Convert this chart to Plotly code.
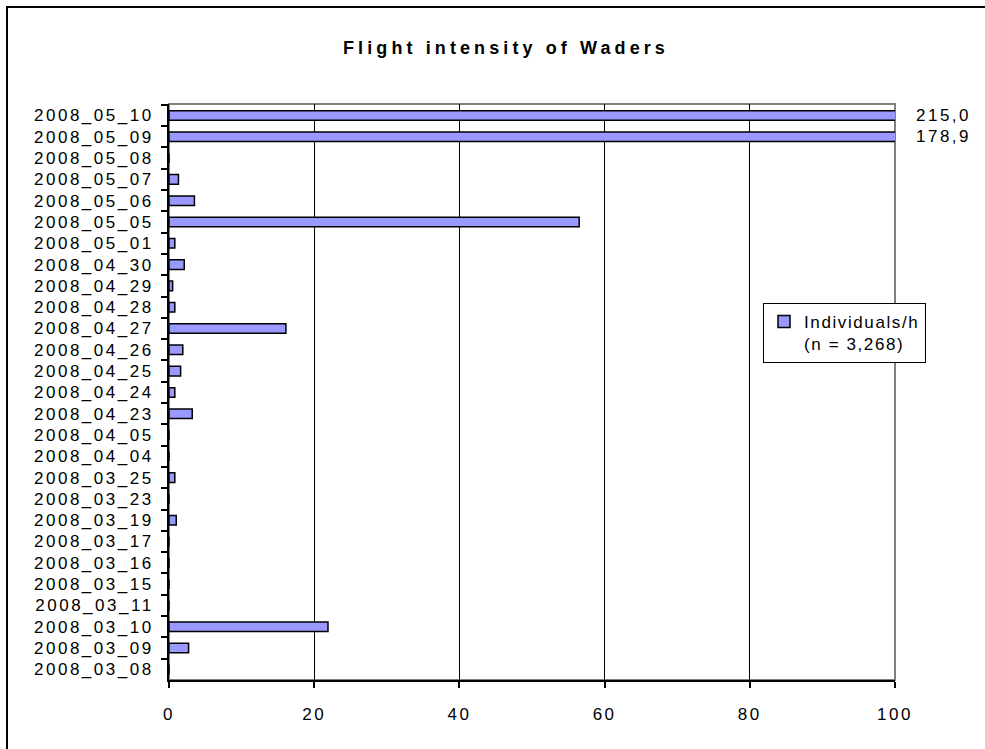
import plotly.graph_objects as go

# Observation dates, listed from the top row to the bottom row
dates = [
    "2008_05_10", "2008_05_09", "2008_05_08", "2008_05_07", "2008_05_06",
    "2008_05_05", "2008_05_01", "2008_04_30", "2008_04_29", "2008_04_28",
    "2008_04_27", "2008_04_26", "2008_04_25", "2008_04_24", "2008_04_23",
    "2008_04_05", "2008_04_04", "2008_03_25", "2008_03_23", "2008_03_19",
    "2008_03_17", "2008_03_16", "2008_03_15", "2008_03_11", "2008_03_10",
    "2008_03_09", "2008_03_08",
]
# Flight intensity (individuals per hour) for each date
individuals_per_h = [
    215.0, 178.9, 0.0, 1.3, 3.5,
    56.5, 0.8, 2.1, 0.5, 0.8,
    16.1, 1.9, 1.6, 0.8, 3.2,
    0.0, 0.0, 0.8, 0.0, 1.0,
    0.0, 0.0, 0.0, 0.0, 21.9,
    2.7, 0.0,
]
x_ticks = [0, 20, 40, 60, 80, 100]
series_name = "Individuals/h"
sample_note = "(n = 3,268)"
chart_title = "Flight intensity of Waders"

W, H = 985, 749
L, R, T, B = 169, 895, 104, 680  # plot area in pixels

BASE_SIZE = 17
TITLE_SIZE = 18


def px_x(p):
    return (p - L) / (R - L)


def px_y(p):
    return (B - p) / (B - T)


x_max = x_ticks[-1]

fig = go.Figure()
fig.add_trace(go.Bar(
    x=individuals_per_h,
    y=dates,
    orientation="h",
    name=f"{series_name}<br>{sample_note}",
    marker=dict(color="#9999FF", line=dict(color="black", width=1.5)),
))

# values beyond the axis maximum are written next to the clipped bar
annotations = []
for d, v in zip(dates, individuals_per_h):
    if v > x_max:
        annotations.append(dict(
            x=x_max, y=d, xref="x", yref="y",
            text=f"{v:.1f}".replace(".", ","),
            showarrow=False, xanchor="left", yanchor="middle", xshift=19,
        ))

shapes = [
    # grey frame of the plot area (top / right edges)
    dict(type="rect", xref="paper", yref="paper", x0=0, x1=1, y0=0, y1=1,
         line=dict(color="#808080", width=2), layer="below"),
    # outer chart border
    dict(type="rect", xref="paper", yref="paper",
         x0=px_x(7), x1=px_x(1010), y0=px_y(770), y1=px_y(7),
         line=dict(color="black", width=2), fillcolor="rgba(0,0,0,0)"),
]

fig.update_layout(
    width=W, height=H,
    margin=dict(l=L, r=W - R, t=T, b=H - B),
    paper_bgcolor="white", plot_bgcolor="white",
    font=dict(family="Liberation Sans, Arial, sans-serif", size=BASE_SIZE, color="black"),
    title=dict(
        text=f"<b>{chart_title}</b>",
        x=px_x(506), xref="paper", xanchor="center",
        y=1 - 48 / H, yref="container", yanchor="middle",
        font=dict(size=TITLE_SIZE),
    ),
    bargap=0.55,
    showlegend=True,
    legend=dict(
        x=px_x(763), y=px_y(303), xanchor="left", yanchor="top",
        bgcolor="white", bordercolor="black", borderwidth=1,
        valign="top",
    ),
    annotations=annotations,
    shapes=shapes,
)

fig.update_xaxes(
    range=[0, x_max], tickvals=x_ticks, ticktext=[str(t) for t in x_ticks],
    showgrid=True, gridcolor="black", gridwidth=1,
    zeroline=False,
    showline=True, linecolor="black", linewidth=2,
    ticks="outside", ticklen=6, tickwidth=1.5, tickcolor="black",
    ticklabelstandoff=12,
)
fig.update_yaxes(
    autorange="reversed", type="category",
    showgrid=False, zeroline=False,
    showline=True, linecolor="black", linewidth=2,
    ticks="outside", ticklen=6, tickwidth=1.5, tickcolor="black",
    tickson="boundaries",
    ticklabelstandoff=10,
)

# Wide character spacing for the chart text; re-layout so that plotly
# measures the spaced-out labels (legend box width etc.)
post_js = """
var gd = document.getElementById('{plot_id}');
var css = document.createElement('style');
css.textContent = 'text{letter-spacing:2.5px} text.gtitle{letter-spacing:4.1px} text.legendtext{letter-spacing:1.6px}';
document.head.appendChild(css);
Plotly.relayout(gd, {'font.size': %s, 'title.font.size': %s});
""" % (BASE_SIZE + 0.001, TITLE_SIZE + 0.001)

fig.write_html("out.html", post_script=post_js)
